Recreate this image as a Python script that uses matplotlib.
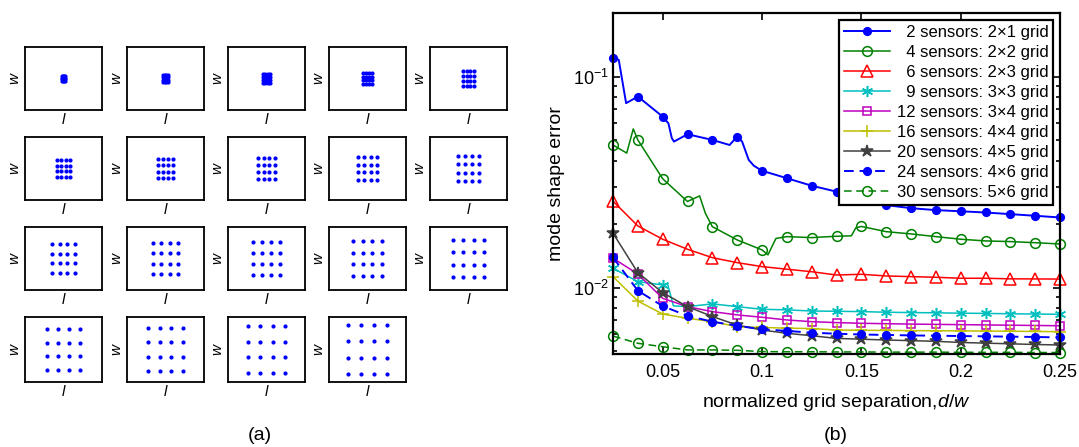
import matplotlib
matplotlib.use("Agg")
import matplotlib.pyplot as plt
from matplotlib.ticker import LogLocator, NullFormatter, FixedLocator
import numpy as np

plt.rcParams['font.family'] = ['Liberation Sans', 'DejaVu Sans']
plt.rcParams['mathtext.fontset'] = 'custom'
plt.rcParams['mathtext.rm'] = 'Liberation Sans'
plt.rcParams['mathtext.it'] = 'Liberation Sans:italic'

W, H = 1079, 447

# normalized grid separation d/w for every layout
SEP = [0.025, 0.0375, 0.05, 0.0625, 0.075, 0.0875, 0.1, 0.1125, 0.125, 0.1375,
       0.15, 0.1625, 0.175, 0.1875, 0.2, 0.2125, 0.225, 0.2375, 0.25]

# mode shape error at each separation
err_2 = [0.123, 0.0804, 0.0646, 0.0533, 0.0501, 0.052, 0.0358, 0.033, 0.0304, 0.0285,
         0.0262, 0.0246, 0.0238, 0.0233, 0.0230, 0.0227, 0.0223, 0.0219, 0.0215]
err_4 = [0.0474, 0.0501, 0.0328, 0.0256, 0.01945, 0.01683, 0.0151, 0.01745, 0.01726, 0.01752,
         0.0195, 0.01842, 0.01797, 0.01745, 0.01696, 0.01665, 0.01653, 0.01633, 0.0161]
err_6 = [0.0257, 0.0196, 0.01696, 0.0152, 0.01387, 0.01314, 0.01258, 0.01223, 0.0119, 0.01148,
         0.01157, 0.01136, 0.01128, 0.0112, 0.01108, 0.01108, 0.01101, 0.0110, 0.01098]
err_9 = [0.01236, 0.01068, 0.0103, 0.00813, 0.00838, 0.00813, 0.0079, 0.00785, 0.00775, 0.00773,
         0.0077, 0.00765, 0.00762, 0.0076, 0.00757, 0.00755, 0.00752, 0.0075, 0.00748]
err_12 = [0.01378, 0.01161, 0.0089, 0.00813, 0.0077, 0.00743, 0.00724, 0.00703, 0.0069, 0.00683,
          0.00678, 0.00675, 0.00672, 0.0067, 0.00668, 0.00666, 0.00664, 0.00662, 0.0066]
err_16 = [0.01128, 0.00864, 0.0075, 0.00716, 0.0069, 0.00653, 0.00648, 0.00643, 0.0064, 0.0063,
          0.00628, 0.00627, 0.00626, 0.00625, 0.00624, 0.00623, 0.00622, 0.0062, 0.00619]
err_20 = [0.01811, 0.01178, 0.00947, 0.00813, 0.0073, 0.00665, 0.0063, 0.00608, 0.00592, 0.00575,
          0.0057, 0.00565, 0.00561, 0.00557, 0.0055, 0.00546, 0.00542, 0.00538, 0.00535]
err_24 = [0.0139, 0.00968, 0.00818, 0.00735, 0.0069, 0.0066, 0.00635, 0.00624, 0.00612, 0.00605,
          0.006, 0.00597, 0.00594, 0.00592, 0.0059, 0.00588, 0.00586, 0.00584, 0.00581]
err_30 = [0.0059, 0.00545, 0.00525, 0.00507, 0.00507, 0.00505, 0.00498, 0.00497, 0.00497, 0.00496,
          0.00496, 0.00495, 0.00495, 0.00495, 0.00494, 0.00494, 0.00494, 0.00493, 0.00493]

# intermediate samples between marked separations (d/w, error)
extra_2 = [(0.0279, 0.120), (0.0316, 0.0748), (0.0529, 0.060), (0.0546, 0.0511),
           (0.0557, 0.0492), (0.0837, 0.0474), (0.090, 0.0492), (0.0933, 0.0403),
           (0.0959, 0.0378)]
extra_4 = [(0.0319, 0.0434), (0.0352, 0.0565), (0.0686, 0.0272), (0.0715, 0.0225),
           (0.103, 0.0143), (0.107, 0.0171), (0.145, 0.0176), (0.1472, 0.0192)]
extra_9 = [(0.0525, 0.0104), (0.0554, 0.0082)]

labels = ["  2 sensors: 2\u00d71 grid", "  4 sensors: 2\u00d72 grid", "  6 sensors: 2\u00d73 grid",
          "  9 sensors: 3\u00d73 grid", "12 sensors: 3\u00d74 grid", "16 sensors: 4\u00d74 grid",
          "20 sensors: 4\u00d75 grid", "24 sensors: 4\u00d76 grid", "30 sensors: 5\u00d76 grid"]

series = [err_2, err_4, err_6, err_9, err_12, err_16, err_20, err_24, err_30]
extras = [extra_2, extra_4, [], extra_9, [], [], [], [], []]

styles = [
    dict(color=(0, 0, 1), ls='-', marker='o', mfc=(0, 0, 1), ms=5.5, lw=1.4),
    dict(color=(0, 0.5, 0), ls='-', marker='o', mfc='none', ms=7, lw=1.1),
    dict(color=(1, 0, 0), ls='-', marker='^', mfc='none', ms=8, lw=1.1),
    dict(color=(0, 0.75, 0.75), ls='-', marker=(6, 2, 0), mfc='none', ms=8, lw=1.1),
    dict(color=(0.75, 0, 0.75), ls='-', marker='s', mfc='none', ms=6, lw=1.1),
    dict(color=(0.75, 0.75, 0), ls='-', marker='+', mfc='none', ms=8, lw=1.1),
    dict(color=(0.25, 0.25, 0.25), ls='-', marker='*', mfc=(0.25, 0.25, 0.25), ms=9, lw=1.1),
    dict(color=(0, 0, 1), ls=(0, (5, 3)), marker='o', mfc=(0, 0, 1), ms=5.5, lw=1.4),
    dict(color=(0, 0.5, 0), ls=(0, (5, 3)), marker='o', mfc='none', ms=7, lw=1.1),
]

fig = plt.figure(figsize=(W / 100, H / 100), dpi=100)


def rect(left, top, w, h):
    return [left / W, 1 - (top + h) / H, w / W, h / H]


# (a) sensor layouts on the l x w plate
col_left = [25, 127, 228, 329, 430]
row_top = [47, 137, 227, 317]
row_h = [63, 63, 63, 65]
for k, d in enumerate(SEP):
    r, c = divmod(k, 5)
    ax_s = fig.add_axes(rect(col_left[c], row_top[r], 77, row_h[r]))
    offs = (np.arange(4) - 1.5) * d
    gx, gy = np.meshgrid(0.75 + offs, 0.5 + offs)
    ax_s.plot(gx.ravel(), gy.ravel(), 'o', color=(0, 0, 1), ms=3, mew=0)
    ax_s.set_xlim(0, 1.5)
    ax_s.set_ylim(0, 1)
    ax_s.set_xticks([])
    ax_s.set_yticks([])
    for sp in ax_s.spines.values():
        sp.set_linewidth(1.3)
    ax_s.set_xlabel('l', fontsize=11, style='italic', labelpad=2)
    ax_s.set_ylabel('w', fontsize=11, style='italic', labelpad=3)

fig.text(260 / W, 1 - 436 / H, '(a)', ha='center', va='center', fontsize=14)
fig.text(836 / W, 1 - 436 / H, '(b)', ha='center', va='center', fontsize=14)

# (b) mode shape error versus separation
ax = fig.add_axes(rect(613, 13, 447, 341))
for vals, ext, st, lab in zip(series, extras, styles, labels):
    pts = sorted(list(zip(SEP, vals)) + list(ext))
    xs = [p[0] for p in pts]
    ys = [p[1] for p in pts]
    marks = [i for i, x in enumerate(xs) if x in SEP]
    ax.plot(xs, ys, color=st['color'], ls=st['ls'], lw=st['lw'], marker=st['marker'],
            mfc=st['mfc'], mec=st['color'], ms=st['ms'], mew=1.1, markevery=marks,
            label=lab, clip_on=False)

ax.set_yscale('log')
ax.set_xlim(0.025, 0.25)
ax.set_ylim(0.00485, 0.2)
ax.set_xticks([0.05, 0.1, 0.15, 0.2, 0.25])
ax.set_xticklabels(['0.05', '0.1', '0.15', '0.2', '0.25'])
ax.yaxis.set_major_locator(FixedLocator([0.01, 0.1]))
ax.set_yticklabels([r'$10^{-2}$', r'$10^{-1}$'])
ax.yaxis.set_minor_locator(LogLocator(base=10, subs=np.arange(2, 10)))
ax.yaxis.set_minor_formatter(NullFormatter())
ax.tick_params(which='both', direction='in', top=True, right=True, labelsize=13, width=1.2)
ax.tick_params(which='major', length=5)
ax.tick_params(which='minor', length=3)
ax.tick_params(axis='x', pad=7)
ax.tick_params(axis='y', pad=3)
for sp in ax.spines.values():
    sp.set_linewidth(1.6)

ax.set_xlabel(r'normalized grid separation,$\mathit{d/w}$', fontsize=14, labelpad=8)
ax.set_ylabel('mode shape error', fontsize=14, labelpad=6)

leg = ax.legend(loc='upper right', fontsize=12, handlelength=2.75, labelspacing=0.3,
                borderaxespad=0.4, borderpad=0.3, handletextpad=0.4, fancybox=False,
                framealpha=1, edgecolor='black')
leg.get_frame().set_linewidth(1.6)
leg.set_zorder(10)

fig.savefig('out.png', dpi=100)
